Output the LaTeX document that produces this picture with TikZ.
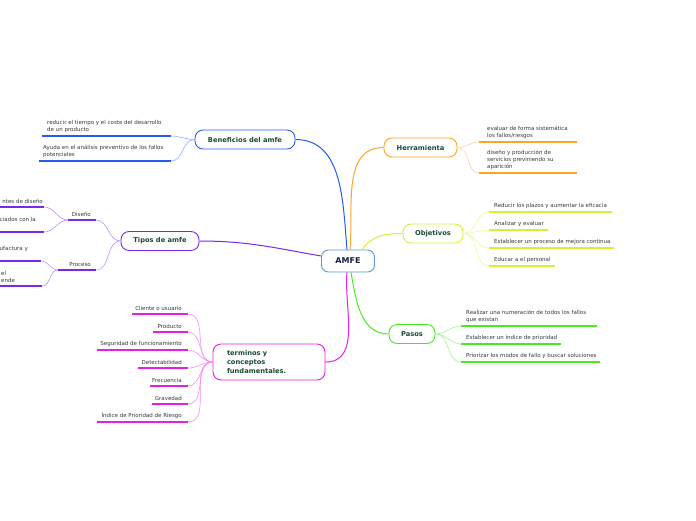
\documentclass[tikz,border=0pt]{standalone}
\usepackage{fontspec}
\setmainfont{DejaVu Sans}
\usepackage{xcolor}
\usepackage{tikz}
\usetikzlibrary{positioning}

\definecolor{cSky}{RGB}{90,150,215}
\definecolor{cNavy}{RGB}{20,30,70}
\definecolor{cTitle}{RGB}{25,75,55}
\definecolor{cLeaf}{RGB}{55,55,55}
\definecolor{cBlue}{RGB}{40,90,240}
\definecolor{cPurple}{RGB}{120,40,240}
\definecolor{cMagenta}{RGB}{230,30,230}
\definecolor{cOrange}{RGB}{250,165,40}
\definecolor{cLime}{RGB}{215,240,50}
\definecolor{cGreen}{RGB}{70,235,30}

\tikzset{
  center/.style={draw=cSky, line width=0.9pt, rounded corners=7pt, fill=white,
    minimum width=53pt, minimum height=22pt, text=cNavy,
    font=\bfseries\fontsize{8}{9}\selectfont},
  topic/.style={draw=#1, line width=0.9pt, rounded corners=8pt, fill=white,
    minimum height=19pt, inner xsep=4pt, text=cTitle,
    font=\bfseries\fontsize{6.7}{9}\selectfont},
  leaf/.style={text=cLeaf, inner sep=1pt, align=left,
    font=\fontsize{5.5}{7}\selectfont},
  branch/.style={draw=#1, line width=1pt},
  uline/.style={draw=#1, line width=1.2pt},
  twig/.style={draw=#1!50, line width=0.6pt},
}

\begin{document}
\begin{tikzpicture}[x=1pt,y=-1pt]
\useasboundingbox (0,0) rectangle (696,520);

% central topic
\node[center] (amfe) at (348,261) {AMFE};

%-------------------------------------------------
% Main topics
%-------------------------------------------------

\node[topic=cBlue, minimum width=100pt] (benef) at (245,139.5) {Beneficios del amfe};
\node[topic=cPurple, minimum width=78pt] (tipos) at (160,241) {Tipos de amfe};
\node[topic=cMagenta, text width=84pt, inner xsep=14pt, minimum height=36pt, align=left] (term) at (269,362) {terminos y\\conceptos\\fundamentales.};
\node[topic=cOrange, minimum width=73pt] (herr) at (420.5,147.5) {Herramienta};
\node[topic=cLime, minimum width=60pt] (obj) at (433,233.5) {Objetivos};
\node[topic=cGreen, minimum width=46pt] (pasos) at (412,334) {Pasos};

\draw[branch=cBlue] ([xshift=-1pt]amfe.north) to[out=95,in=0] (benef.east);
\draw[branch=cPurple] ([yshift=5pt]amfe.west) to[out=170,in=0] (tipos.east);
\draw[branch=cMagenta] ([xshift=-1pt]amfe.south) to[out=-95,in=0] (term.east);
\draw[branch=cOrange] ([xshift=2pt]amfe.north) to[out=85,in=180] (herr.west);
\draw[branch=cLime] ([xshift=14pt]amfe.north) to[out=55,in=180] (obj.west);
\draw[branch=cGreen] ([xshift=3pt]amfe.south) to[out=-80,in=180] (pasos.west);

%-------------------------------------------------
% Beneficios del amfe
%-------------------------------------------------

\coordinate (b1a) at (42,136); \coordinate (b1b) at (171,136);
\coordinate (b2a) at (39,161); \coordinate (b2b) at (171,161);
\draw[uline=cBlue] (b1a) -- (b1b);
\draw[uline=cBlue] (b2a) -- (b2b);
\node[leaf, anchor=south west] (b1) at (46,134) {reducir el tiempo y el coste del desarrollo\\de un producto};
\node[leaf, anchor=south west] (b2) at (42,159) {Ayuda en el análisis preventivo de los fallos\\potenciales};
\draw[twig=cBlue] (benef.west) to[out=180,in=0] (b1b);
\draw[twig=cBlue] (benef.west) to[out=180,in=0] (b2b);

%-------------------------------------------------
% Tipos de amfe
%-------------------------------------------------

\coordinate (da) at (68,220); \coordinate (db) at (96,220);
\coordinate (pa) at (58,270); \coordinate (pb) at (96,270);
\draw[uline=cPurple] (da) -- (db);
\draw[uline=cPurple] (pa) -- (pb);
\node[leaf, anchor=south east] (dis) at (92,218) {Diseño};
\node[leaf, anchor=south east] (pro) at (92,268) {Proceso};
\draw[twig=cPurple] (tipos.west) to[out=180,in=0] (db);
\draw[twig=cPurple] (tipos.west) to[out=180,in=0] (pb);

% Diseño
\coordinate (d1a) at (-2,207); \coordinate (d1b) at (44,207);
\coordinate (d2a) at (-2,232); \coordinate (d2b) at (44,232);
\draw[uline=cPurple] (d1a) -- (d1b);
\draw[uline=cPurple] (d2a) -- (d2b);
\node[leaf, anchor=south east] (d1) at (44,205) {ntes de diseño};
\node[leaf, anchor=south east] (d2) at (37,223) {ciados con la};
\draw[twig=cPurple] (da) to[out=180,in=0] (d1b);
\draw[twig=cPurple] (da) to[out=180,in=0] (d2b);

% Proceso
\coordinate (p1a) at (-2,261); \coordinate (p1b) at (41,261);
\coordinate (p2a) at (-2,286); \coordinate (p2b) at (42,286);
\draw[uline=cPurple] (p1a) -- (p1b);
\draw[uline=cPurple] (p2a) -- (p2b);
\node[leaf, anchor=south east] (pr1) at (29,253) {ufactura y};
\node[leaf, anchor=south west] (pr2) at (0,284) {el\\ende};
\draw[twig=cPurple] (pa) to[out=180,in=0] (p1b);
\draw[twig=cPurple] (pa) to[out=180,in=0] (p2b);

%-------------------------------------------------
% terminos y conceptos fundamentales
%-------------------------------------------------

\coordinate (t1a) at (132,314); \coordinate (t1b) at (188,314);
\coordinate (t2a) at (153,332); \coordinate (t2b) at (188,332);
\coordinate (t3a) at (97,350);  \coordinate (t3b) at (188,350);
\coordinate (t4a) at (138,368); \coordinate (t4b) at (188,368);
\coordinate (t5a) at (150,386); \coordinate (t5b) at (188,386);
\coordinate (t6a) at (152,404); \coordinate (t6b) at (188,404);
\coordinate (t7a) at (97,422);  \coordinate (t7b) at (188,422);
\draw[uline=cMagenta] (t1a) -- (t1b);
\draw[uline=cMagenta] (t2a) -- (t2b);
\draw[uline=cMagenta] (t3a) -- (t3b);
\draw[uline=cMagenta] (t4a) -- (t4b);
\draw[uline=cMagenta] (t5a) -- (t5b);
\draw[uline=cMagenta] (t6a) -- (t6b);
\draw[uline=cMagenta] (t7a) -- (t7b);
\node[leaf, anchor=south east] (t1) at (183,312) {Cliente o usuario};
\node[leaf, anchor=south east] (t2) at (183,330) {Producto};
\node[leaf, anchor=south east] (t3) at (183,348) {Seguridad de funcionamiento};
\node[leaf, anchor=south east] (t4) at (183,366) {Detectabilidad};
\node[leaf, anchor=south east] (t5) at (183,384) {Frecuencia};
\node[leaf, anchor=south east] (t6) at (183,402) {Gravedad};
\node[leaf, anchor=south east] (t7) at (183,420) {Índice de Prioridad de Riesgo};
\draw[twig=cMagenta] (term.west) to[out=180,in=0] (t1b);
\draw[twig=cMagenta] (term.west) to[out=180,in=0] (t2b);
\draw[twig=cMagenta] (term.west) to[out=180,in=0] (t3b);
\draw[twig=cMagenta] (term.west) to[out=180,in=0] (t4b);
\draw[twig=cMagenta] (term.west) to[out=180,in=0] (t5b);
\draw[twig=cMagenta] (term.west) to[out=180,in=0] (t6b);
\draw[twig=cMagenta] (term.west) to[out=180,in=0] (t7b);

%-------------------------------------------------
% Herramienta
%-------------------------------------------------

\coordinate (h1a) at (479,142); \coordinate (h1b) at (577,142);
\coordinate (h2a) at (479,173); \coordinate (h2b) at (577,173);
\draw[uline=cOrange] (h1a) -- (h1b);
\draw[uline=cOrange] (h2a) -- (h2b);
\node[leaf, anchor=south west] (h1) at (486,140) {evaluar de forma sistemática\\los fallos/riesgos};
\node[leaf, anchor=south west] (h2) at (486,171) {diseño y producción de\\servicios previniendo su\\aparición};
\draw[twig=cOrange] (herr.east) to[out=0,in=180] (h1a);
\draw[twig=cOrange] (herr.east) to[out=0,in=180] (h2a);

%-------------------------------------------------
% Objetivos
%-------------------------------------------------

\coordinate (o1a) at (489,212); \coordinate (o1b) at (612,212);
\coordinate (o2a) at (489,230); \coordinate (o2b) at (548,230);
\coordinate (o3a) at (489,248); \coordinate (o3b) at (614,248);
\coordinate (o4a) at (489,266); \coordinate (o4b) at (555,266);
\draw[uline=cLime] (o1a) -- (o1b);
\draw[uline=cLime] (o2a) -- (o2b);
\draw[uline=cLime] (o3a) -- (o3b);
\draw[uline=cLime] (o4a) -- (o4b);
\node[leaf, anchor=south west] (o1) at (493,210) {Reducir los plazos y aumentar la eficacia};
\node[leaf, anchor=south west] (o2) at (493,228) {Analizar y evaluar};
\node[leaf, anchor=south west] (o3) at (493,246) {Establecer un proceso de mejora continua};
\node[leaf, anchor=south west] (o4) at (493,264) {Educar a el personal};
\draw[twig=cLime] (obj.east) to[out=0,in=180] (o1a);
\draw[twig=cLime] (obj.east) to[out=0,in=180] (o2a);
\draw[twig=cLime] (obj.east) to[out=0,in=180] (o3a);
\draw[twig=cLime] (obj.east) to[out=0,in=180] (o4a);

%-------------------------------------------------
% Pasos
%-------------------------------------------------

\coordinate (s1a) at (461,326); \coordinate (s1b) at (597,326);
\coordinate (s2a) at (461,344); \coordinate (s2b) at (561,344);
\coordinate (s3a) at (461,362); \coordinate (s3b) at (600,362);
\draw[uline=cGreen] (s1a) -- (s1b);
\draw[uline=cGreen] (s2a) -- (s2b);
\draw[uline=cGreen] (s3a) -- (s3b);
\node[leaf, anchor=south west] (s1) at (465,324) {Realizar una numeración de todos los fallos\\que existan};
\node[leaf, anchor=south west] (s2) at (465,342) {Establecer un índice de prioridad};
\node[leaf, anchor=south west] (s3) at (465,360) {Priorizar los modos de fallo y buscar soluciones};
\draw[twig=cGreen] (pasos.east) to[out=0,in=180] (s1a);
\draw[twig=cGreen] (pasos.east) to[out=0,in=180] (s2a);
\draw[twig=cGreen] (pasos.east) to[out=0,in=180] (s3a);

\end{tikzpicture}
\end{document}
